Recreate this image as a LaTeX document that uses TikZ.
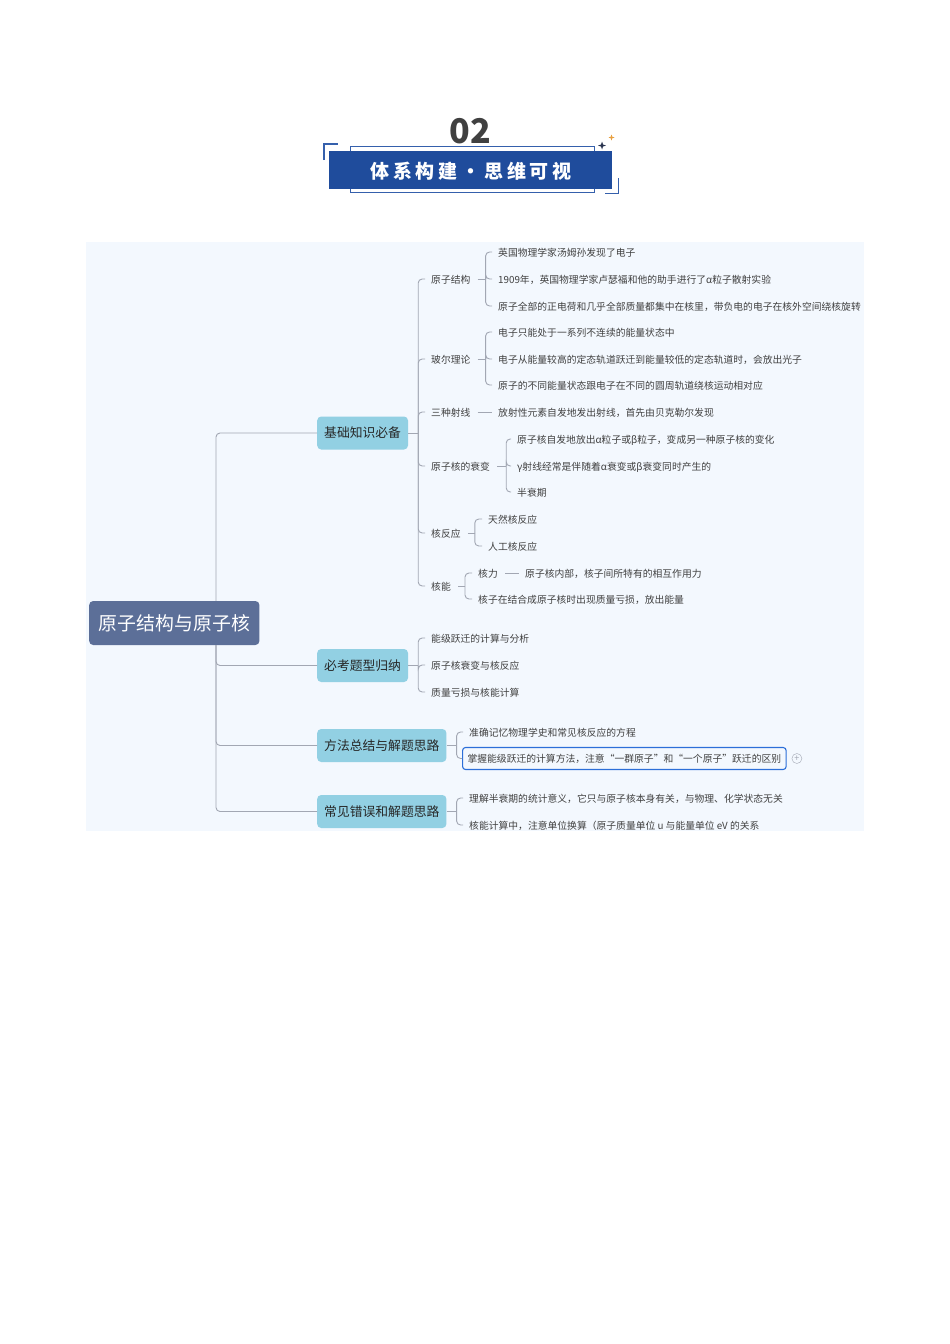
\documentclass[tikz,border=0pt]{standalone}
\usepackage{fontspec}
\setmainfont{Noto Sans CJK SC}
\usepackage{tikz}
\usetikzlibrary{positioning}

\definecolor{bannerblue}{HTML}{1F4C9C}
\definecolor{frameblue}{HTML}{3560AC}
\definecolor{panelbg}{HTML}{F3F8FE}
\definecolor{rootfill}{HTML}{5C6F98}
\definecolor{topicfill}{HTML}{92D0E3}
\definecolor{linkgray}{HTML}{A2A7B3}
\definecolor{itemtext}{HTML}{404040}
\definecolor{stardark}{HTML}{2A3550}
\definecolor{starorange}{HTML}{E8A040}
\definecolor{boxblue}{HTML}{2C6FD8}

\tikzset{
  root/.style={fill=rootfill, text=white, rounded corners=4pt, anchor=west, minimum height=44pt, inner xsep=9.5pt, font=\fontsize{18.9}{20}\selectfont},
  topic/.style={fill=topicfill, text=black!85, rounded corners=4pt, anchor=west, minimum height=33pt, inner xsep=7pt, font=\fontsize{12.8}{14}\selectfont},
  item/.style={text=itemtext, anchor=west, inner sep=1pt, text height=9.4pt, text depth=0.8pt, font=\fontsize{9.8}{11}\selectfont},
  link/.style={draw=linkgray, line width=0.9pt, rounded corners=4pt},
}

\begin{document}
\begin{tikzpicture}[x=1pt, y=-1pt]
\useasboundingbox (0,0) rectangle (950,1344);

% header
\draw[frameblue, line width=0.8pt] (350,146.5) rectangle (594,192);
\fill[bannerblue] (329,151) rectangle (612,189);
\draw[frameblue, line width=1.4pt] (324,160) |- (338,144);
\draw[frameblue, line width=1.4pt] (605,193.5) -| (618.5,178);
\node[text=black!75, font=\fontsize{34}{36}\bfseries] (secno) at (470,131) {02};
\node[text=white, font=\fontsize{19}{21}\bfseries\addfontfeature{LetterSpace=20}] (title) at (471,171) {体系构建・思维可视};
\fill[stardark, shift={(602,145.5)}] (0,-4) -- (1,-1) -- (4,0) -- (1,1) -- (0,4) -- (-1,1) -- (-4,0) -- (-1,-1) -- cycle;
\fill[starorange, shift={(611.5,137.5)}] (0,-3) -- (0.8,-0.8) -- (3,0) -- (0.8,0.8) -- (0,3) -- (-0.8,0.8) -- (-3,0) -- (-0.8,-0.8) -- cycle;

% panel
\fill[panelbg] (86,242) rectangle (864,831);

% root and topics
\node[root] (root) at (89,623) {原子结构与原子核};
\node[topic] (jczs) at (317,433) {基础知识必备};
\node[topic] (bktx) at (317,665.5) {必考题型归纳};
\node[topic] (ffzj) at (317,745.5) {方法总结与解题思路};
\node[topic] (cjcw) at (317,811.5) {常见错误和解题思路};
\coordinate (trunk) at (216,623);

% level 2
\node[item] (yzjg) at (430,279) {原子结构};
\node[item] (blll) at (430,359) {玻尔理论};
\node[item] (szsx) at (430,412) {三种射线};
\node[item] (yzhs) at (430,466) {原子核的衰变};
\node[item] (hfy) at (430,533) {核反应};
\node[item] (hn) at (430,586) {核能};

% level 3
\node[item] (yzjg1) at (497,252) {英国物理学家汤姆孙发现了电子};
\node[item] (yzjg2) at (497,279) {1909年，英国物理学家卢瑟福和他的助手进行了α粒子散射实验};
\node[item] (yzjg3) at (497,306) {原子全部的正电荷和几乎全部质量都集中在核里，带负电的电子在核外空间绕核旋转};
\node[item] (blll1) at (497,332) {电子只能处于一系列不连续的能量状态中};
\node[item] (blll2) at (497,359) {电子从能量较高的定态轨道跃迁到能量较低的定态轨道时，会放出光子};
\node[item] (blll3) at (497,385) {原子的不同能量状态跟电子在不同的圆周轨道绕核运动相对应};
\node[item] (szsx1) at (497,412) {放射性元素自发地发出射线，首先由贝克勒尔发现};
\node[item] (yzhs1) at (516,439) {原子核自发地放出α粒子或β粒子，变成另一种原子核的变化};
\node[item] (yzhs2) at (516,466) {γ射线经常是伴随着α衰变或β衰变同时产生的};
\node[item] (yzhs3) at (516,492) {半衰期};
\node[item] (hfy1) at (487,519) {天然核反应};
\node[item] (hfy2) at (487,546) {人工核反应};
\node[item] (hn1) at (477,573) {核力};
\node[item] (hn2) at (477,599) {核子在结合成原子核时出现质量亏损，放出能量};
\node[item] (hn11) at (524,573) {原子核内部，核子间所特有的相互作用力};

\node[item] (bktx1) at (430,638) {能级跃迁的计算与分析};
\node[item] (bktx2) at (430,665) {原子核衰变与核反应};
\node[item] (bktx3) at (430,692) {质量亏损与核能计算};

\node[item] (ffzj1) at (468,732) {准确记忆物理学史和常见核反应的方程};
\node[item, draw=boxblue, line width=1.1pt, rounded corners=3pt, inner xsep=5pt, minimum height=22pt] (ffzj2) at (462,758.5) {掌握能级跃迁的计算方法，注意“一群原子”和“一个原子”跃迁的区别};
\node[draw=linkgray, circle, minimum size=10pt, inner sep=0pt, text=linkgray, font=\fontsize{9}{9}\selectfont, right=5pt of ffzj2] (plus) {+};

\node[item] (cjcw1) at (468,798) {理解半衰期的统计意义，它只与原子核本身有关，与物理、化学状态无关};
\node[item] (cjcw2) at (468,825) {核能计算中，注意单位换算（原子质量单位 u 与能量单位 eV 的关系};

% trunk
\draw[link] (root.north -| trunk) |- (jczs.west);
\draw[link] (root.south -| trunk) |- (bktx.west);
\draw[link] (root.south -| trunk) |- (ffzj.west);
\draw[link] (root.south -| trunk) |- (cjcw.west);

% topic brackets
\draw[link] (jczs.east) -- ([xshift=10pt]jczs.east);
\foreach \c in {yzjg, blll, szsx, yzhs, hfy, hn}
  \draw[link] ([xshift=10pt]jczs.east) |- ([xshift=-5pt]\c.west);
\draw[link] (bktx.east) -- ([xshift=10pt]bktx.east);
\foreach \c in {bktx1, bktx2, bktx3}
  \draw[link] ([xshift=10pt]bktx.east) |- ([xshift=-5pt]\c.west);
\draw[link] (ffzj.east) -- ([xshift=10pt]ffzj.east);
\draw[link] ([xshift=10pt]ffzj.east) |- ([xshift=-5pt]ffzj1.west);
\draw[link] ([xshift=10pt]ffzj.east) |- (ffzj2.west);
\draw[link] (cjcw.east) -- ([xshift=10pt]cjcw.east);
\foreach \c in {cjcw1, cjcw2}
  \draw[link] ([xshift=10pt]cjcw.east) |- ([xshift=-5pt]\c.west);

% item brackets
\draw[link] ([xshift=6pt]yzjg.east) -- ([xshift=14pt]yzjg.east);
\foreach \c in {yzjg1, yzjg2, yzjg3}
  \draw[link] ([xshift=14pt]yzjg.east) |- ([xshift=-5pt]\c.west);
\draw[link] ([xshift=6pt]blll.east) -- ([xshift=14pt]blll.east);
\foreach \c in {blll1, blll2, blll3}
  \draw[link] ([xshift=14pt]blll.east) |- ([xshift=-5pt]\c.west);
\draw[link] ([xshift=6pt]szsx.east) -- ([xshift=-5pt]szsx1.west);
\draw[link] ([xshift=6pt]yzhs.east) -- ([xshift=15pt]yzhs.east);
\foreach \c in {yzhs1, yzhs2, yzhs3}
  \draw[link] ([xshift=15pt]yzhs.east) |- ([xshift=-5pt]\c.west);
\draw[link] ([xshift=6pt]hfy.east) -- ([xshift=13pt]hfy.east);
\foreach \c in {hfy1, hfy2}
  \draw[link] ([xshift=13pt]hfy.east) |- ([xshift=-5pt]\c.west);
\draw[link] ([xshift=6pt]hn.east) -- ([xshift=13pt]hn.east);
\foreach \c in {hn1, hn2}
  \draw[link] ([xshift=13pt]hn.east) |- ([xshift=-5pt]\c.west);
\draw[link] ([xshift=6pt]hn1.east) -- ([xshift=-5pt]hn11.west);
\end{tikzpicture}
\end{document}
